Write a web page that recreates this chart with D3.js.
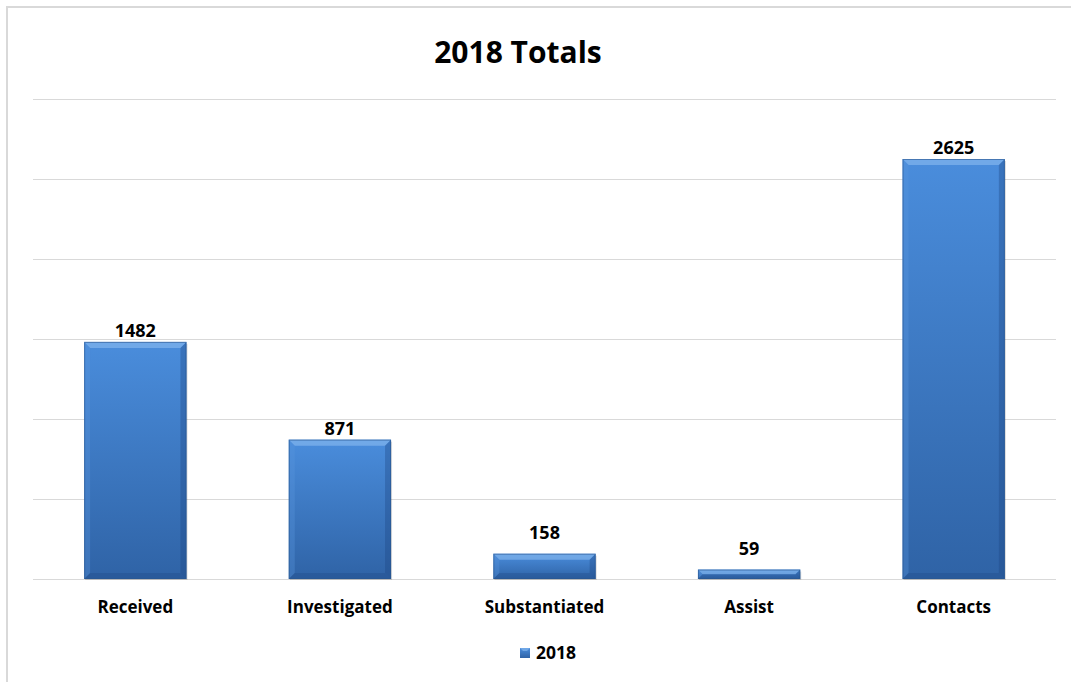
<!DOCTYPE html>
<html><head><meta charset="utf-8">
<script src="https://cdn.jsdelivr.net/npm/d3@7"></script>
<style>
html,body{margin:0;padding:0;background:#fff;overflow:hidden;}
svg{display:block;}
text{font-family:"Open Sans",Lato,"Liberation Sans",sans-serif;font-weight:bold;fill:#000;}
</style></head>
<body>
<svg id="chart" width="1071" height="682"></svg>
<script>
const categories = ["Received","Investigated","Substantiated","Assist","Contacts"];
const values2018 = [1482, 871, 158, 59, 2625];
const yTicks = [0,500,1000,1500,2000,2500,3000];
const seriesName = "2018";
const title = "2018 Totals";

(function(){
const svg = d3.select("#chart");
const W = 1071, H = 682;
const mLeft = 33, mRight = 1056, mTop = 99, mBottom = 579;

// outer border (top & left visible)
svg.append("rect").attr("x",7).attr("y",7).attr("width",W+20).attr("height",H+20)
  .attr("fill","none").attr("stroke","#d9d9d9").attr("stroke-width",2);

const x = d3.scaleBand().domain(categories).range([mLeft,mRight]).paddingInner(0.5).paddingOuter(0.25);
const y = d3.scaleLinear().domain([0,3000]).range([mBottom,mTop]);

const defs = svg.append("defs");
const g = defs.append("linearGradient").attr("id","barGrad").attr("x1",0).attr("y1",0).attr("x2",0).attr("y2",1);
g.append("stop").attr("offset","0%").attr("stop-color","#4a8ddc");
g.append("stop").attr("offset","100%").attr("stop-color","#2f63a6");

// gridlines
svg.append("g").selectAll("line").data(yTicks).join("line")
  .attr("x1",mLeft).attr("x2",mRight)
  .attr("y1",d=>Math.round(y(d))+0.5).attr("y2",d=>Math.round(y(d))+0.5)
  .attr("stroke","#d9d9d9").attr("stroke-width",1);

// bars with bevel
const bars = svg.append("g").selectAll("g").data(categories).join("g");
bars.each(function(c,i){
  const gg = d3.select(this);
  const x0 = x(c), w = x.bandwidth(), y0 = y(values2018[i]), h = y(0)-y0;
  const b = Math.min(6, h/2);
  gg.append("rect").attr("x",x0+1).attr("y",y0+2).attr("width",w).attr("height",h-1)
    .attr("fill","#000").attr("opacity",0.15);
  gg.append("rect").attr("x",x0).attr("y",y0).attr("width",w).attr("height",h).attr("fill","url(#barGrad)");
  gg.append("polygon").attr("points",[[x0,y0],[x0+w,y0],[x0+w-b,y0+b],[x0+b,y0+b]].join(" "))
    .attr("fill","#8cbcf0").attr("opacity",0.6);
  gg.append("polygon").attr("points",[[x0,y0],[x0+b,y0+b],[x0+b,y0+h-b],[x0,y0+h]].join(" "))
    .attr("fill","#5a96de").attr("opacity",0.35);
  gg.append("polygon").attr("points",[[x0+w,y0],[x0+w,y0+h],[x0+w-b,y0+h-b],[x0+w-b,y0+b]].join(" "))
    .attr("fill","#1d4580").attr("opacity",0.35);
  gg.append("polygon").attr("points",[[x0,y0+h],[x0+b,y0+h-b],[x0+w-b,y0+h-b],[x0+w,y0+h]].join(" "))
    .attr("fill","#1d4580").attr("opacity",0.3);
  gg.append("rect").attr("x",x0+0.5).attr("y",y0+0.5).attr("width",w-1).attr("height",h-1)
    .attr("fill","none").attr("stroke","#2a5690").attr("stroke-width",1).attr("opacity",0.6);
  const off = h < 40 ? 15 : 5;
  gg.append("text").attr("x",x0+w/2).attr("y",y0-off).attr("text-anchor","middle")
    .attr("font-size",18).text(values2018[i]);
});

// category axis labels
svg.append("g").selectAll("text").data(categories).join("text")
  .attr("x",d=>x(d)+x.bandwidth()/2).attr("y",613).attr("text-anchor","middle")
  .attr("font-size",17).text(d=>d);

// title
svg.append("text").attr("x",518).attr("y",63).attr("text-anchor","middle")
  .attr("font-size",30).text(title);

// legend
const lg = svg.append("g");
lg.append("rect").attr("x",520).attr("y",648).attr("width",10).attr("height",10).attr("fill","url(#barGrad)");
lg.append("polygon").attr("points","520,648 530,648 527,651 523,651").attr("fill","#8cbcf0").attr("opacity",0.6);
lg.append("text").attr("x",536).attr("y",659).attr("font-size",17.5).text(seriesName);
})();
</script>
</body></html>
